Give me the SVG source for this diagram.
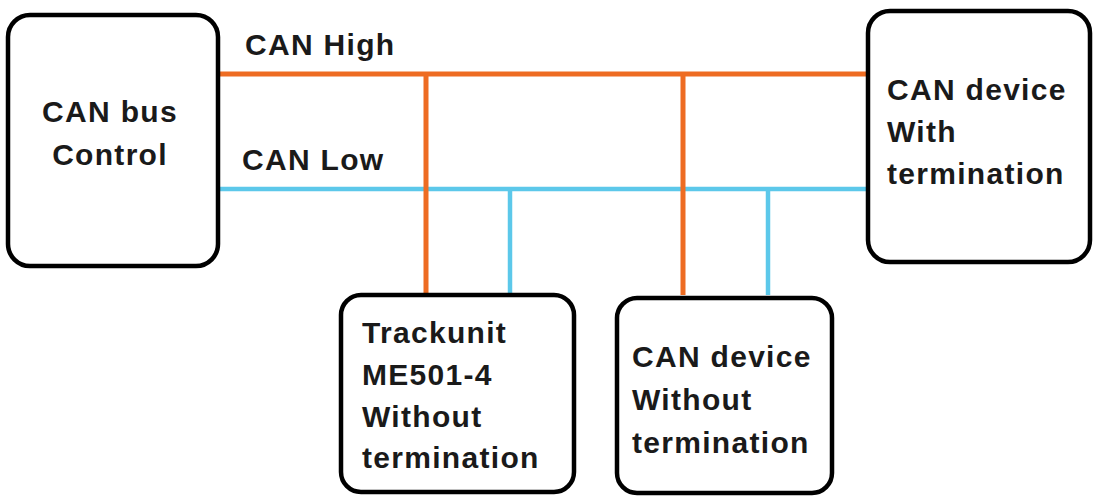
<svg xmlns="http://www.w3.org/2000/svg" width="1095" height="496" viewBox="0 0 1095 496">
  <style>
    .box { fill: #ffffff; stroke: #000000; stroke-width: 4.5; }
    .lbl { font-family: "Liberation Sans", Arial, sans-serif; font-weight: bold; font-size: 30px; letter-spacing: 1.3px; fill: #1a1a1a; }
    .hi { stroke: #ee6c22; stroke-width: 5; fill: none; }
    .lo { stroke: #5cc8ea; stroke-width: 4.5; fill: none; }
  </style>
  <rect width="1095" height="496" fill="#ffffff"/>

  <!-- bus wiring -->
  <g id="connectors">
    <line class="hi" x1="218" y1="74" x2="868" y2="74"/>
    <line class="lo" x1="218" y1="189" x2="868" y2="189"/>
    <line class="hi" x1="426" y1="74" x2="426" y2="293"/>
    <line class="lo" x1="510" y1="189" x2="510" y2="293"/>
    <line class="hi" x1="683" y1="74" x2="683" y2="295"/>
    <line class="lo" x1="768" y1="189" x2="768" y2="295"/>
    <text class="lbl" x="245" y="55">CAN High</text>
    <text class="lbl" x="242" y="170">CAN Low</text>
  </g>

  <g id="can-bus-control">
    <rect class="box" x="8" y="15" width="210" height="251" rx="22"/>
    <text class="lbl" x="110" y="122" text-anchor="middle">CAN bus</text>
    <text class="lbl" x="110" y="165" text-anchor="middle">Control</text>
  </g>

  <g id="can-device-terminated">
    <rect class="box" x="868" y="11" width="222" height="251" rx="22"/>
    <text class="lbl" x="887" y="100">CAN device</text>
    <text class="lbl" x="887" y="142">With</text>
    <text class="lbl" x="887" y="184">termination</text>
  </g>

  <g id="trackunit">
    <rect class="box" x="341" y="295" width="233" height="197" rx="20"/>
    <text class="lbl" x="362" y="343">Trackunit</text>
    <text class="lbl" x="362" y="385">ME501-4</text>
    <text class="lbl" x="362" y="427">Without</text>
    <text class="lbl" x="362" y="468">termination</text>
  </g>

  <g id="can-device-unterminated">
    <rect class="box" x="617" y="298" width="215" height="195" rx="20"/>
    <text class="lbl" x="632" y="367">CAN device</text>
    <text class="lbl" x="632" y="410">Without</text>
    <text class="lbl" x="632" y="453">termination</text>
  </g>
</svg>
